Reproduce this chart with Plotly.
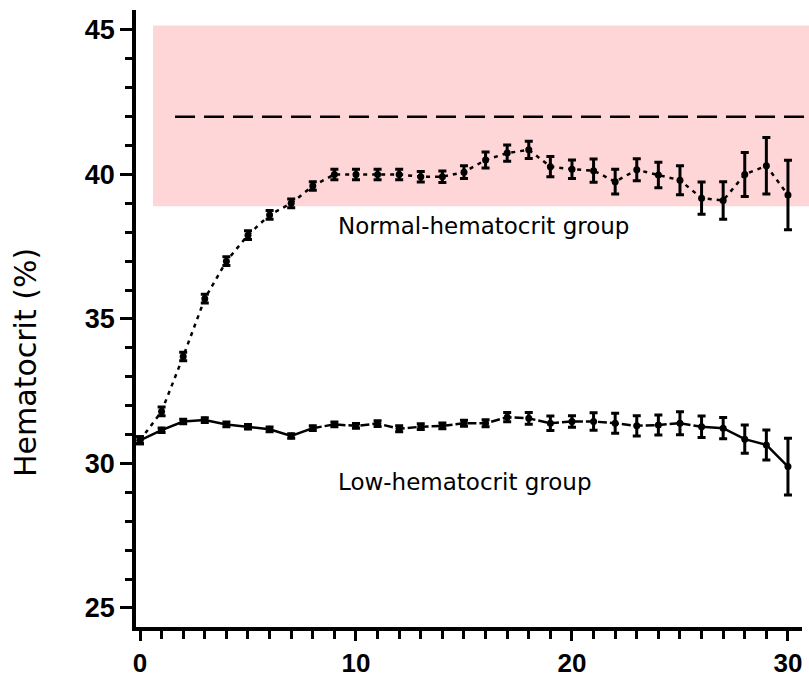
import plotly.graph_objects as go

days = list(range(31))
normal_hct = [30.8, 31.8, 33.7, 35.7, 37.0, 37.9, 38.6, 39.0, 39.6, 40.0,
              40.0, 40.0, 40.0, 39.92, 39.92, 40.08, 40.5, 40.74, 40.85, 40.27,
              40.18, 40.13, 39.75, 40.16, 39.98, 39.8, 39.18, 39.1, 40.0, 40.3, 39.29]
normal_err = [0.12, 0.15, 0.15, 0.15, 0.15, 0.15, 0.15, 0.15, 0.15, 0.18,
              0.18, 0.18, 0.18, 0.18, 0.2, 0.22, 0.28, 0.28, 0.3, 0.35,
              0.32, 0.4, 0.43, 0.38, 0.44, 0.5, 0.56, 0.65, 0.76, 0.98, 1.2]
low_hct = [30.8, 31.15, 31.45, 31.5, 31.35, 31.27, 31.18, 30.95, 31.22, 31.35,
           31.3, 31.38, 31.2, 31.27, 31.3, 31.39, 31.39, 31.6, 31.56, 31.39,
           31.45, 31.45, 31.39, 31.3, 31.33, 31.39, 31.27, 31.22, 30.84, 30.64, 29.89]
low_err = [0.12, 0.08, 0.08, 0.08, 0.08, 0.08, 0.08, 0.08, 0.08, 0.08,
           0.08, 0.1, 0.1, 0.1, 0.1, 0.1, 0.12, 0.16, 0.2, 0.25,
           0.2, 0.3, 0.35, 0.35, 0.35, 0.4, 0.37, 0.37, 0.49, 0.52, 0.98]

band_low, band_high = 38.9, 45.15
target_hct = 42.0
y_ticks = [25, 30, 35, 40, 45]
x_ticks = [0, 10, 20, 30]

fig = go.Figure()

# normal group
fig.add_trace(go.Scatter(
    x=days, y=normal_hct, mode="lines+markers",
    line=dict(color="black", width=2.5, dash="4px,5px"),
    marker=dict(color="black", size=7, symbol="circle"),
    error_y=dict(type="data", array=normal_err, color="black", thickness=3, width=4),
    showlegend=False))

# low group: solid and dashed portions
seg_solid1 = slice(0, 9)
seg_dash = slice(8, 27)
seg_solid2 = slice(26, 31)
for sl, dash in [(seg_solid1, "solid"), (seg_dash, "9px,3px"), (seg_solid2, "solid")]:
    fig.add_trace(go.Scatter(
        x=days[sl], y=low_hct[sl], mode="lines",
        line=dict(color="black", width=2.5, dash=dash), showlegend=False))
fig.add_trace(go.Scatter(
    x=days, y=low_hct, mode="markers",
    marker=dict(color="black", size=7, symbol="circle"),
    error_y=dict(type="data", array=low_err, color="black", thickness=3, width=4),
    showlegend=False))

fig.add_shape(type="rect", xref="paper", yref="y", x0=0.0255, x1=1.02,
              y0=band_low, y1=band_high, fillcolor="rgb(255,214,216)",
              line=dict(width=0), layer="below")
fig.add_shape(type="line", xref="paper", yref="y", x0=0.0586, x1=1.02,
              y0=target_hct, y1=target_hct,
              line=dict(color="black", width=2.5, dash="20px,9px"), layer="above")

fig.add_annotation(x=15.9, y=38.22, xref="x", yref="y", text="Normal-hematocrit group",
                   showarrow=False, font=dict(family="DejaVu Sans", size=23, color="black"))
fig.add_annotation(x=15.07, y=29.36, xref="x", yref="y", text="Low-hematocrit group",
                   showarrow=False, font=dict(family="DejaVu Sans", size=23, color="black"))
fig.add_annotation(x=-0.165, y=33.48, xref="paper", yref="y", text="Hematocrit (%)",
                   textangle=-90, showarrow=False, xanchor="center", yanchor="middle",
                   font=dict(family="DejaVu Sans", size=30, color="black"))

fig.update_layout(
    width=809, height=681,
    margin=dict(l=136, r=7, t=10, b=54, autoexpand=False),
    paper_bgcolor="white", plot_bgcolor="rgba(0,0,0,0)",
    xaxis=dict(range=[-0.185, 30.65], tickvals=x_ticks, ticks="outside", ticklen=10,
               tickwidth=3, tickcolor="black", showline=True, linewidth=3.5,
               linecolor="black", showgrid=False, zeroline=False, automargin=False,
               tickfont=dict(family="Liberation Sans Narrow, Liberation Sans", size=26,
                             color="black", weight="bold"),
               minor=dict(dtick=1, ticks="outside", ticklen=8, tickwidth=2.5,
                          tickcolor="black", showgrid=False)),
    yaxis=dict(range=[24.34, 45.69], tickvals=y_ticks, ticks="outside", ticklen=12,
               tickwidth=3, tickcolor="black", showline=True, linewidth=3.5,
               linecolor="black", showgrid=False, zeroline=False, automargin=False,
               tickfont=dict(family="Liberation Sans", size=27, color="black", weight="bold"),
               minor=dict(dtick=1, ticks="outside", ticklen=7, tickwidth=2.5,
                          tickcolor="black", showgrid=False)),
)

fig.write_html("out.html")
